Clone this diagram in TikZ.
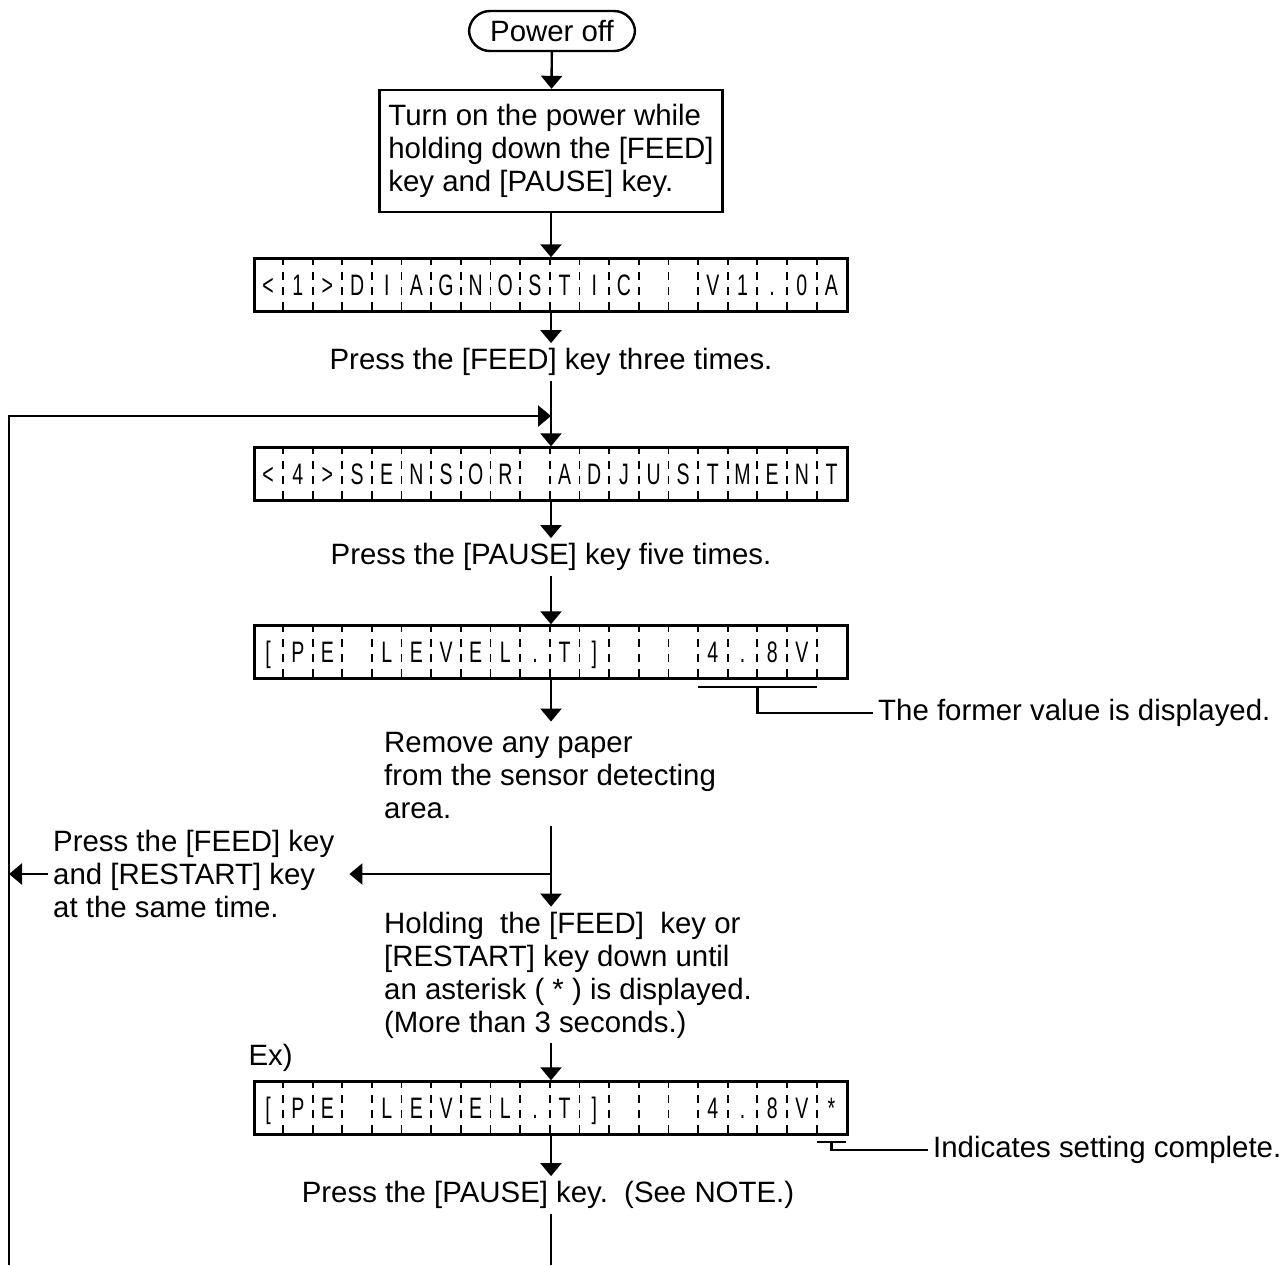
\documentclass[tikz,border=0pt]{standalone}
\usepackage{fontspec}
\setmainfont{Liberation Sans}
\newfontfamily\lcdfont{Liberation Sans}[FakeStretch=0.66]
\usetikzlibrary{arrows.meta,positioning,calc}

% one display line: 20 cells with dashed dividers
\newcommand\lcdline[2]{%
  \foreach \k in {1,...,19}
    \draw[divider] ([xshift=\k*14.825pt]#1.north west) -- ([xshift=\k*14.825pt]#1.south west);
  \foreach \ch [count=\k] in {#2}
    \node[lcdchar] at ([xshift={(\k-0.5)*14.825pt}]#1.west) {\ch};
}

\begin{document}
\begin{tikzpicture}[
  x=0.5pt, y=-0.5pt,
  font=\fontsize{14.7pt}{16.5pt}\selectfont,
  line width=1.2pt,
  >={Triangle[width=10.5pt,length=6.5pt]},
  terminal/.style={draw, rounded corners=10.5pt, minimum width=83pt,
                   minimum height=20pt, inner sep=0pt},
  box/.style={draw, align=left, inner xsep=4.5pt, minimum height=61pt},
  lcd/.style={draw, minimum width=296.5pt, minimum height=26.5pt, inner sep=0pt},
  lcdchar/.style={font=\lcdfont\fontsize{14.8pt}{15pt}\selectfont,
                  inner sep=0pt, text height=10.6pt, text depth=0pt},
  divider/.style={line width=0.9pt, dash pattern=on 4pt off 3.5pt},
  note/.style={align=left, inner xsep=2pt, inner ysep=2pt}
]
\useasboundingbox (0,0) rectangle (1288,1265);

\node[terminal] (poweroff) at (552,31) {Power off};
\node[box] (turnon) at (551,151) {Turn on the power while\\holding down the [FEED]\\key and [PAUSE] key.};

\node[lcd] (diag) at (551,285) {};
\lcdline{diag}{<,1,>,D,I,A,G,N,O,S,T,I,C,{},{},V,1,.,0,A}
\node[note] (feedthree) at (551,362) {Press the [FEED] key three times.};

\node[lcd] (sensor) at (551,474) {};
\lcdline{sensor}{<,4,>,S,E,N,S,O,R,{},A,D,J,U,S,T,M,E,N,T}
\node[note] (pausefive) at (551,557) {Press the [PAUSE] key five times.};

\node[lcd] (level) at (551,652) {};
\lcdline{level}{[,P,E,{},L,E,V,E,L,.,T,],{},{},{},4,.,8,V,{}}
\node[anchor=west, inner sep=2pt] (former) at (873,713) {The former value is displayed.};

\node[note, anchor=west] (remove) at (379,776) {Remove any paper\\from the sensor detecting\\area.};
\node[note, anchor=west] (feedrestart) at (48,874) {Press the [FEED] key\\and [RESTART] key\\at the same time.};
\node[note, anchor=west] (holding) at (379,975) {Holding\ \ the [FEED]\ \ key or\\{}[RESTART] key down until\\an asterisk ( * ) is displayed.\\(More than 3 seconds.)};

\node[lcd] (done) at (551,1108) {};
\lcdline{done}{[,P,E,{},L,E,V,E,L,.,T,],{},{},{},4,.,8,V,*}
\node[anchor=south west, inner sep=0pt] (ex) at ([shift={(-3pt,4pt)}]done.north west) {Ex)};
\node[anchor=west, inner sep=2pt] (complete) at (928,1150) {Indicates setting complete.};
\node[note] (pausesee) at (548,1195) {Press the [PAUSE] key.\ \ (See NOTE.)};

\coordinate (loopin) at (551,416);
\coordinate (leftend) at (9,1265);
\coordinate (branch) at (551,874);

\draw[->] (poweroff) -- (turnon);
\draw[->] (turnon) -- (diag);
\draw[->] (diag) -- (feedthree);
\draw[->] (feedthree) -- (sensor);
\draw[->] (sensor) -- (pausefive);
\draw[->] (pausefive) -- (level);
\draw[->] (level.south) -- ($(level.south |- remove.north)+(0,-6)$);
\draw[->] ($(branch |- remove.south)+(0,2)$) -- (branch |- holding.north);
\draw[->] (branch) -- ([xshift=5pt]feedrestart.east);
\draw[->] (feedrestart.west) -- (feedrestart.west -| leftend);
\draw[->] (leftend) |- (loopin);
\draw[->] (branch |- holding.south) -- (done.north);
\draw[->] (done) -- (done.south |- pausesee.north);
\draw (done.south |- pausesee.south) -- (done.south |- leftend);

% brackets under the display values
\draw ([shift={(222.4pt,-3.5pt)}]level.south west) -- ([shift={(281.7pt,-3.5pt)}]level.south west);
\coordinate (formermid) at ([shift={(252pt,-3.5pt)}]level.south west);
\draw (formermid) |- (former.west);
\draw ([shift={(281.7pt,-3pt)}]done.south west) -- ([shift={(296.5pt,-3pt)}]done.south west);
\coordinate (donemid) at ([shift={(289.1pt,-3pt)}]done.south west);
\draw (donemid) |- (complete.west);
\end{tikzpicture}
\end{document}
